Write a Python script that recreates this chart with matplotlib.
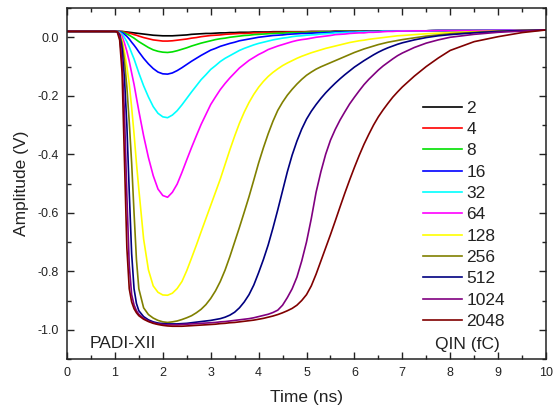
import matplotlib
matplotlib.use("Agg")
import matplotlib.pyplot as plt
from matplotlib.ticker import MultipleLocator, FormatStrFormatter

plt.rcParams['font.family'] = ['Liberation Sans', 'DejaVu Sans']

# Shared time axis (ns)
time_ns = [0.0, 1.0, 1.05, 1.1, 1.15, 1.2, 1.25, 1.3, 1.35, 1.4, 1.45, 1.5,
           1.6, 1.7, 1.8, 1.9, 2.0, 2.1, 2.2,
           2.3, 2.4, 2.5, 2.6, 2.7, 2.8, 2.9, 3.0, 3.1, 3.2,
           3.3, 3.4, 3.5, 3.6, 3.7, 3.8, 3.9, 4.0, 4.1, 4.2,
           4.3, 4.4, 4.5, 4.6, 4.7, 4.8, 4.9, 5.0, 5.1, 5.2,
           5.3, 5.4, 5.5, 5.6, 5.7, 5.8, 5.9, 6.0, 6.1, 6.2,
           6.3, 6.4, 6.5, 6.6, 6.7, 6.8, 6.9, 7.0,
           7.25, 7.5, 7.75, 8.0, 8.5, 9.0, 9.5, 10.0]

# Output amplitude (V) for each input charge
amp_2 = [0.020, 0.020, 0.020, 0.020, 0.020, 0.019, 0.018, 0.017, 0.016, 0.015, 0.014, 0.013,
         0.011, 0.009, 0.007, 0.006, 0.005, 0.005, 0.005,
         0.006, 0.007, 0.008, 0.010, 0.011, 0.012, 0.013, 0.013, 0.014, 0.015,
         0.015, 0.016, 0.016, 0.017, 0.017, 0.017, 0.018, 0.018, 0.018, 0.018,
         0.019, 0.019, 0.019, 0.019, 0.019, 0.019, 0.019, 0.019, 0.020, 0.020,
         0.020, 0.020, 0.020, 0.021, 0.021, 0.021, 0.021, 0.021, 0.021, 0.021,
         0.021, 0.021, 0.021, 0.022, 0.022, 0.022, 0.022, 0.022,
         0.022, 0.022, 0.023, 0.023, 0.023, 0.024, 0.024, 0.025]
amp_4 = [0.020, 0.020, 0.020, 0.020, 0.019, 0.018, 0.016, 0.014, 0.012, 0.009, 0.007, 0.004,
         -0.001, -0.005, -0.009, -0.011, -0.013, -0.013, -0.012,
         -0.010, -0.008, -0.006, -0.003, -0.001, 0.002, 0.004, 0.006, 0.007, 0.008,
         0.010, 0.011, 0.012, 0.013, 0.013, 0.014, 0.015, 0.015, 0.016, 0.016,
         0.017, 0.017, 0.017, 0.018, 0.018, 0.018, 0.018, 0.019, 0.019, 0.019,
         0.019, 0.019, 0.019, 0.020, 0.020, 0.020, 0.021, 0.021, 0.021, 0.021,
         0.021, 0.021, 0.021, 0.022, 0.022, 0.022, 0.022, 0.022,
         0.022, 0.022, 0.023, 0.023, 0.023, 0.024, 0.024, 0.025]
amp_8 = [0.020, 0.020, 0.020, 0.019, 0.018, 0.015, 0.011, 0.007, 0.002, -0.003, -0.009, -0.015,
         -0.025, -0.035, -0.043, -0.048, -0.051, -0.052, -0.050,
         -0.046, -0.041, -0.036, -0.030, -0.025, -0.020, -0.016, -0.012, -0.008, -0.005,
         -0.003, 0.000, 0.002, 0.004, 0.006, 0.007, 0.009, 0.010, 0.011, 0.012,
         0.013, 0.014, 0.014, 0.015, 0.016, 0.016, 0.016, 0.017, 0.017, 0.017,
         0.018, 0.018, 0.018, 0.019, 0.020, 0.020, 0.020, 0.020, 0.020, 0.020,
         0.020, 0.021, 0.021, 0.022, 0.022, 0.022, 0.022, 0.022,
         0.022, 0.022, 0.023, 0.023, 0.023, 0.024, 0.024, 0.025]
amp_16 = [0.020, 0.020, 0.020, 0.019, 0.016, 0.010, 0.003, -0.006, -0.017, -0.027, -0.038, -0.050,
          -0.072, -0.091, -0.107, -0.119, -0.125, -0.126, -0.122,
          -0.114, -0.104, -0.093, -0.082, -0.072, -0.062, -0.053, -0.044, -0.038, -0.031,
          -0.026, -0.021, -0.017, -0.012, -0.009, -0.006, -0.003, 0.000, 0.002, 0.004,
          0.006, 0.007, 0.008, 0.010, 0.011, 0.012, 0.013, 0.013, 0.014, 0.015,
          0.015, 0.016, 0.016, 0.018, 0.018, 0.018, 0.019, 0.019, 0.019, 0.020,
          0.020, 0.020, 0.020, 0.021, 0.021, 0.022, 0.022, 0.022,
          0.022, 0.022, 0.023, 0.023, 0.023, 0.024, 0.024, 0.025]
amp_32 = [0.020, 0.020, 0.020, 0.017, 0.011, -0.001, -0.015, -0.033, -0.054, -0.074, -0.098, -0.122,
          -0.166, -0.204, -0.237, -0.260, -0.272, -0.275, -0.266,
          -0.251, -0.231, -0.209, -0.187, -0.166, -0.145, -0.128, -0.110, -0.097, -0.083,
          -0.072, -0.063, -0.054, -0.045, -0.038, -0.032, -0.026, -0.021, -0.017, -0.013,
          -0.009, -0.006, -0.003, -0.001, 0.002, 0.004, 0.005, 0.007, 0.008, 0.009,
          0.011, 0.012, 0.013, 0.015, 0.015, 0.016, 0.017, 0.017, 0.018, 0.018,
          0.019, 0.019, 0.019, 0.021, 0.021, 0.021, 0.021, 0.022,
          0.022, 0.022, 0.023, 0.023, 0.023, 0.024, 0.024, 0.025]
amp_64 = [0.020, 0.020, 0.020, 0.014, 0.003, -0.020, -0.048, -0.082, -0.122, -0.161, -0.207, -0.252,
          -0.337, -0.411, -0.473, -0.519, -0.541, -0.547, -0.530,
          -0.502, -0.462, -0.419, -0.377, -0.337, -0.298, -0.264, -0.230, -0.204, -0.179,
          -0.158, -0.139, -0.122, -0.105, -0.092, -0.079, -0.069, -0.059, -0.051, -0.042,
          -0.036, -0.030, -0.025, -0.020, -0.015, -0.011, -0.008, -0.006, -0.003, 0.000,
          0.002, 0.004, 0.006, 0.009, 0.010, 0.011, 0.013, 0.014, 0.015, 0.015,
          0.017, 0.017, 0.018, 0.019, 0.020, 0.020, 0.021, 0.021,
          0.022, 0.022, 0.023, 0.023, 0.023, 0.024, 0.024, 0.025]
amp_128 = [0.020, 0.020, 0.020, 0.012, -0.010, -0.050, -0.100, -0.160, -0.240, -0.330, -0.430, -0.520,
           -0.690, -0.795, -0.850, -0.872, -0.881, -0.882, -0.875,
           -0.859, -0.835, -0.798, -0.755, -0.711, -0.665, -0.620, -0.575, -0.530, -0.485,
           -0.435, -0.385, -0.338, -0.294, -0.256, -0.223, -0.195, -0.171, -0.151, -0.134,
           -0.120, -0.108, -0.097, -0.088, -0.080, -0.072, -0.065, -0.059, -0.053, -0.048,
           -0.043, -0.038, -0.034, -0.030, -0.026, -0.022, -0.018, -0.015, -0.012, -0.010,
           -0.007, -0.005, -0.003, -0.001, 0.001, 0.003, 0.005, 0.006,
           0.009, 0.012, 0.014, 0.016, 0.019, 0.021, 0.023, 0.025]
amp_256 = [0.020, 0.020, 0.020, 0.010, -0.020, -0.080, -0.170, -0.290, -0.430, -0.600, -0.760, -0.860,
           -0.925, -0.948, -0.960, -0.968, -0.973, -0.975, -0.973,
           -0.970, -0.965, -0.959, -0.952, -0.942, -0.930, -0.914, -0.893, -0.867, -0.835,
           -0.796, -0.750, -0.700, -0.650, -0.598, -0.545, -0.488, -0.430, -0.378, -0.330,
           -0.287, -0.250, -0.222, -0.198, -0.178, -0.160, -0.144, -0.130, -0.119, -0.109,
           -0.101, -0.094, -0.087, -0.080, -0.073, -0.066, -0.059, -0.052, -0.046, -0.040,
           -0.035, -0.030, -0.025, -0.021, -0.017, -0.014, -0.011, -0.008,
           -0.002, 0.004, 0.008, 0.012, 0.017, 0.021, 0.023, 0.025]
amp_512 = [0.020, 0.020, 0.020, 0.008, -0.040, -0.140, -0.300, -0.530, -0.740, -0.860, -0.910, -0.935,
           -0.955, -0.966, -0.973, -0.977, -0.979, -0.980, -0.980,
           -0.980, -0.979, -0.978, -0.976, -0.974, -0.972, -0.970, -0.968, -0.965, -0.962,
           -0.957, -0.950, -0.940, -0.925, -0.905, -0.880, -0.847, -0.805, -0.760, -0.710,
           -0.652, -0.590, -0.525, -0.460, -0.403, -0.355, -0.314, -0.280, -0.253, -0.230,
           -0.209, -0.190, -0.173, -0.157, -0.142, -0.128, -0.115, -0.102, -0.091, -0.080,
           -0.070, -0.060, -0.051, -0.043, -0.036, -0.030, -0.024, -0.019,
           -0.009, -0.001, 0.005, 0.009, 0.015, 0.020, 0.023, 0.025]
amp_1024 = [0.020, 0.020, 0.019, 0.000, -0.080, -0.260, -0.540, -0.780, -0.880, -0.915, -0.935, -0.947,
            -0.961, -0.970, -0.976, -0.980, -0.982, -0.983, -0.983,
            -0.983, -0.982, -0.981, -0.980, -0.979, -0.978, -0.977, -0.976, -0.975, -0.973,
            -0.972, -0.970, -0.968, -0.966, -0.964, -0.962, -0.959, -0.955, -0.951, -0.947,
            -0.941, -0.933, -0.916, -0.890, -0.860, -0.820, -0.765, -0.700, -0.620, -0.530,
            -0.460, -0.400, -0.352, -0.315, -0.283, -0.255, -0.228, -0.205, -0.183, -0.162,
            -0.144, -0.128, -0.112, -0.098, -0.086, -0.074, -0.063, -0.054,
            -0.035, -0.020, -0.009, 0.000, 0.010, 0.017, 0.021, 0.025]
amp_2048 = [0.020, 0.020, 0.018, -0.010, -0.120, -0.420, -0.720, -0.860, -0.905, -0.928, -0.942, -0.952,
            -0.964, -0.972, -0.978, -0.982, -0.985, -0.987, -0.988,
            -0.988, -0.988, -0.987, -0.986, -0.985, -0.984, -0.983, -0.982, -0.981, -0.979,
            -0.978, -0.976, -0.975, -0.973, -0.971, -0.969, -0.967, -0.964, -0.961, -0.957,
            -0.953, -0.948, -0.942, -0.935, -0.927, -0.916, -0.900, -0.880, -0.850, -0.810,
            -0.765, -0.720, -0.675, -0.628, -0.580, -0.533, -0.488, -0.445, -0.404, -0.366,
            -0.332, -0.300, -0.272, -0.248, -0.226, -0.205, -0.187, -0.170,
            -0.133, -0.100, -0.071, -0.045, -0.015, 0.002, 0.016, 0.025]

charges = ['2', '4', '8', '16', '32', '64', '128', '256', '512', '1024', '2048']
series = [amp_2, amp_4, amp_8, amp_16, amp_32, amp_64,
          amp_128, amp_256, amp_512, amp_1024, amp_2048]
colors = ['#000000', '#FF0000', '#00E000', '#0000FF', '#00FFFF', '#FF00FF',
          '#FFFF00', '#808000', '#000080', '#800080', '#800000']

fig = plt.figure(figsize=(5.54, 4.11), dpi=100)
ax = fig.add_axes([0.1209, 0.1265, 0.8647, 0.854])

for q, v, c in zip(charges, series, colors):
    ax.plot(time_ns, v, color=c, lw=1.2, label=q)

ax.set_xlim(0, 10)
ax.set_ylim(-1.1, 0.1)
ax.xaxis.set_major_locator(MultipleLocator(1))
ax.xaxis.set_minor_locator(MultipleLocator(0.5))
ax.yaxis.set_major_locator(MultipleLocator(0.2))
ax.yaxis.set_minor_locator(MultipleLocator(0.1))
ax.yaxis.set_major_formatter(FormatStrFormatter('%.1f'))
ax.xaxis.set_major_formatter(FormatStrFormatter('%d'))

ax.tick_params(which='both', direction='in', top=True, right=True, width=1.0,
               labelsize=9, colors='#222222')
ax.tick_params(which='major', length=5, pad=6)
ax.tick_params(which='minor', length=3)
for s in ax.spines.values():
    s.set_linewidth(1.1)
    s.set_color('#222222')

ax.set_xlabel('Time (ns)', fontsize=12.5, labelpad=8, color='#222222')
ax.set_ylabel('Amplitude (V)', fontsize=12.5, labelpad=6, color='#222222')

leg = ax.legend(loc='upper left', bbox_to_anchor=(0.743, 0.736), frameon=False,
                fontsize=12.5, handlelength=2.25, handletextpad=0.25,
                labelspacing=0.355, borderpad=0, borderaxespad=0)
for t in leg.get_texts():
    t.set_color('#222222')

ax.text(0.048, 0.045, 'PADI-XII', transform=ax.transAxes, fontsize=12.5,
        ha='left', va='center', color='#222222')
ax.text(0.836, 0.04, 'QIN (fC)', transform=ax.transAxes, fontsize=12.5,
        ha='center', va='center', color='#222222')

fig.savefig('out.png', dpi=100)
